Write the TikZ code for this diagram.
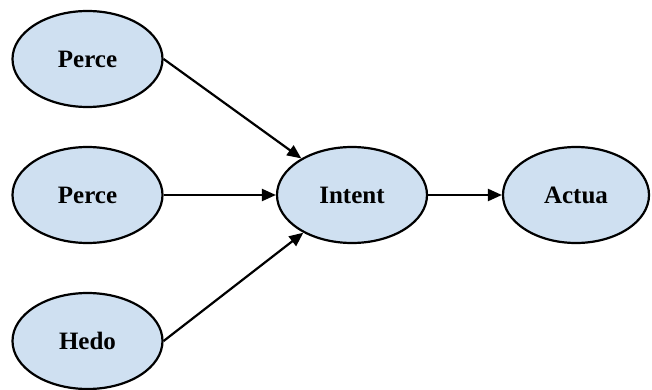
\documentclass[tikz,border=0pt]{standalone}
\usepackage{fontspec}
\setmainfont{Liberation Serif}
\usetikzlibrary{shapes.geometric,arrows.meta}
\definecolor{nodefill}{RGB}{207,224,241}
\begin{document}
\begin{tikzpicture}[x=1pt,y=-1pt,
  ell/.style={ellipse,draw=black,line width=2.2pt,fill=nodefill,minimum width=150pt,minimum height=96pt,inner sep=0pt,font=\fontsize{25}{28}\selectfont\bfseries},
  conn/.style={line width=2.2pt,-{Triangle[length=14pt,width=12pt]}}]
\useasboundingbox (0,0) rectangle (652,390);
\node[ell] (p1) at (87.5,59) {Perce};
\node[ell] (p2) at (87.5,195) {Perce};
\node[ell] (h) at (87.5,341) {Hedo};
\node[ell] (i) at (352,195) {Intent};
\node[ell,minimum width=146pt] (a) at (576,195) {Actua};
\draw[conn] (p1.east) -- (i);
\draw[conn] (p2) -- (i);
\draw[conn] (h.east) -- (i);
\draw[conn] (i) -- (a);
\end{tikzpicture}
\end{document}
